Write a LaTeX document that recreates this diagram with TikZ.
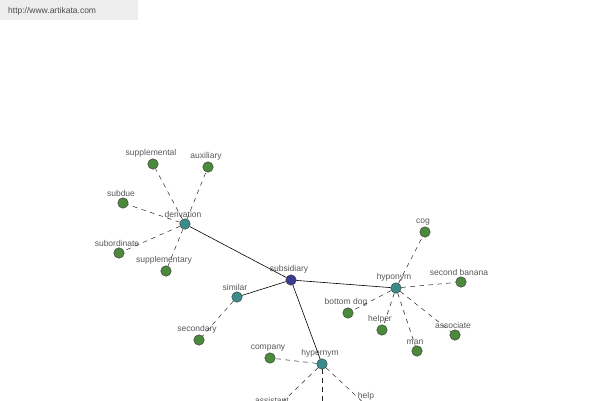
\documentclass[tikz,border=0pt]{standalone}
\usepackage{fontspec}
\setmainfont{Liberation Sans}
\begin{document}
\begin{tikzpicture}[x=1pt,y=-1pt,
  lbl/.style={font=\fontsize{8.5}{9}\selectfont, text=black!65, inner sep=0pt},
  leaf/.style={circle, draw=black!80, line width=0.4pt, fill=leafgreen, minimum size=10.5pt, inner sep=0pt},
  hub/.style={circle, draw=black!80, line width=0.4pt, fill=hubteal, minimum size=10.5pt, inner sep=0pt},
  root/.style={circle, draw=black!80, line width=0.4pt, fill=rootblue, minimum size=10.5pt, inner sep=0pt},
  solidedge/.style={draw=black, line width=0.6pt},
  dashedge/.style={draw=black!85, line width=0.5pt, dash pattern=on 4.5pt off 4.5pt},
  every label/.style={lbl, label distance=1pt, xshift=-2pt}]
\definecolor{leafgreen}{HTML}{4B8A3C}
\definecolor{hubteal}{HTML}{3A8C8C}
\definecolor{rootblue}{HTML}{3A3A8E}
\useasboundingbox (0,0) rectangle (600,400);
\clip (0,0) rectangle (600,400);
\fill[white] (0,0) rectangle (600,400);
% url box
\node[fill=black!7, minimum width=138pt, minimum height=20pt, anchor=north west, inner sep=0pt] (urlbox) at (0,0) {};
\node[lbl, font=\fontsize{8.5}{9}\selectfont, text=black!70, anchor=west] (url) at (8,11) {http://www.artikata.com};
% hubs
\node[root, label=above:subsidiary] (subsidiary) at (291,280) {};
\node[hub, label=above:derivation] (derivation) at (185,224) {};
\node[hub, label=above:similar] (similar) at (237,297) {};
\node[hub, label=above:hyponym] (hyponym) at (396,288) {};
\node[hub, label=above:hypernym] (hypernym) at (322,364) {};
% leaves
\node[leaf, label=above:supplemental] (supplemental) at (153,164) {};
\node[leaf, label=above:auxiliary] (auxiliary) at (208,167) {};
\node[leaf, label=above:subdue] (subdue) at (123,203) {};
\node[leaf, label=above:subordinate] (subordinate) at (119,253) {};
\node[leaf, label=above:supplementary] (supplementary) at (166,271) {};
\node[leaf, label=above:secondary] (secondary) at (199,340) {};
\node[leaf, label=above:cog] (cog) at (425,232) {};
\node[leaf, label=above:second banana] (secondbanana) at (461,282) {};
\node[leaf, label=above:bottom dog] (bottomdog) at (348,313) {};
\node[leaf, label=above:helper] (helper) at (382,330) {};
\node[leaf, label=above:associate] (associate) at (455,335) {};
\node[leaf, label=above:man] (man) at (417,351) {};
\node[leaf, label=above:company] (company) at (270,358) {};
\node[leaf, label=above:assistant] (assistant) at (274,410) {};
\node[leaf] (below) at (322,418) {};
\node[leaf, label=above:help] (help) at (368,407) {};
% solid edges
\draw[solidedge] (subsidiary) -- (derivation);
\draw[solidedge] (subsidiary) -- (similar);
\draw[solidedge] (subsidiary) -- (hyponym);
\draw[solidedge] (subsidiary) -- (hypernym);
% dashed edges
\foreach \l in {supplemental,auxiliary,subdue,subordinate,supplementary}
  \draw[dashedge] (derivation) -- (\l);
\draw[dashedge] (similar) -- (secondary);
\foreach \l in {cog,secondbanana,bottomdog,helper,associate,man}
  \draw[dashedge] (hyponym) -- (\l);
\foreach \l in {company,assistant,below,help}
  \draw[dashedge] (hypernym) -- (\l);
\end{tikzpicture}
\end{document}
